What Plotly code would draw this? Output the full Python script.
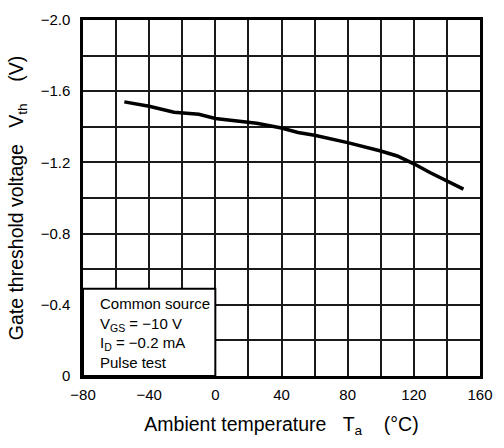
import plotly.graph_objects as go

# Data
temp_c = [-55, -40, -25, -10, 0, 10, 25, 40, 50, 60, 80, 100, 110, 120, 130, 150]
vth_v = [-1.54, -1.515, -1.482, -1.47, -1.447, -1.436, -1.42, -1.393, -1.368, -1.352,
         -1.311, -1.264, -1.236, -1.192, -1.142, -1.05]

x_tickvals = [-80, -40, 0, 40, 80, 120, 160]
x_ticktext = ["\u221280", "\u221240", "0", "40", "80", "120", "160"]
y_tickvals = [0, -0.4, -0.8, -1.2, -1.6, -2.0]
y_ticktext = ["0", "\u22120.4", "\u22120.8", "\u22121.2", "\u22121.6", "\u22122.0"]

legend_lines = ["Common source", "V<sub>GS</sub> = \u221210 V", "I<sub>D</sub> = \u22120.2 mA", "Pulse test"]

FONT = "Liberation Sans, Arial, Helvetica, sans-serif"
GRID = "#1a1a1a"
NB = "\u00a0"

fig = go.Figure()
fig.add_trace(go.Scatter(x=temp_c, y=vth_v, mode="lines",
                         line=dict(color="black", width=3.5), showlegend=False,
                         hoverinfo="skip"))

fig.add_shape(type="rect", xref="x", yref="y", x0=-80, x1=0, y0=0, y1=-0.49,
              fillcolor="white", line=dict(color="black", width=2), layer="above")

fig.add_annotation(xref="x", yref="y", x=-80, y=-0.49, xanchor="left", yanchor="top",
                   xshift=15, yshift=-4, align="left", showarrow=False,
                   text="<br>".join(legend_lines),
                   font=dict(family=FONT, size=15, color="black"))

fig.update_layout(
    width=504, height=448,
    margin=dict(l=83, r=13, t=11, b=72),
    paper_bgcolor="white", plot_bgcolor="white",
    font=dict(family=FONT, size=15, color="black"),
    xaxis=dict(range=[-80, 160], tickvals=x_tickvals, ticktext=x_ticktext,
               showgrid=True, gridcolor=GRID, gridwidth=1.5,
               minor=dict(dtick=20, tick0=-80, showgrid=True, gridcolor=GRID, gridwidth=1.5),
               showline=True, linecolor="black", linewidth=2.5, mirror=True,
               ticks="", ticklabelstandoff=3, zeroline=False,
               tickfont=dict(size=15),
               title=dict(text="Ambient temperature" + NB * 3 + "T<sub>a</sub>" + NB * 4 + "(\u00b0C)",
                          font=dict(size=19.5), standoff=16)),
    yaxis=dict(range=[0, -2.0], tickvals=y_tickvals, ticktext=y_ticktext,
               showgrid=True, gridcolor=GRID, gridwidth=1.5,
               minor=dict(dtick=0.2, tick0=0, showgrid=True, gridcolor=GRID, gridwidth=1.5),
               showline=True, linecolor="black", linewidth=2.5, mirror=True,
               ticks="", ticklabelstandoff=7, zeroline=False,
               tickfont=dict(size=15),
               title=dict(text="Gate threshold voltage" + NB * 3 + "V<sub>th</sub>" + NB * 4 + "(V)",
                          font=dict(size=19.5), standoff=12)),
)

fig.write_html("out.html")
